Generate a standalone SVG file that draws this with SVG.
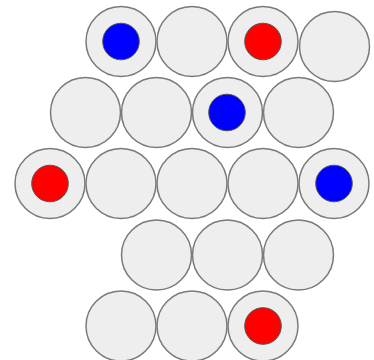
<svg xmlns="http://www.w3.org/2000/svg" width="374" height="360" viewBox="0 0 374 360">
<style>
.cell{fill:#eeeeee;stroke:#7a7a7a;stroke-width:1.5}
.piece{stroke:#555555;stroke-width:1}
.blue{fill:#0000ff}
.red{fill:#ff0000}
</style>
<rect width="374" height="360" fill="#ffffff"/>
<g id="row1">
<g id="c1-1"><circle class="cell" cx="121" cy="41.5" r="35"/><circle class="piece blue" cx="121" cy="41.5" r="18.3"/></g>
<g id="c1-2"><circle class="cell" cx="192" cy="41.5" r="35"/></g>
<g id="c1-3"><circle class="cell" cx="263" cy="41.5" r="35"/><circle class="piece red" cx="263" cy="41.5" r="18.3"/></g>
<g id="c1-4"><circle class="cell" cx="334.5" cy="46.5" r="35"/></g>
</g>
<g id="row2">
<g id="c2-1"><circle class="cell" cx="85.5" cy="112.5" r="35"/></g>
<g id="c2-2"><circle class="cell" cx="156.5" cy="112.5" r="35"/></g>
<g id="c2-3"><circle class="cell" cx="227.5" cy="112.5" r="35"/><circle class="piece blue" cx="227" cy="112.5" r="18.3"/></g>
<g id="c2-4"><circle class="cell" cx="298.5" cy="112.5" r="35"/></g>
</g>
<g id="row3">
<g id="c3-1"><circle class="cell" cx="50" cy="183.5" r="35"/><circle class="piece red" cx="50" cy="183.5" r="18.3"/></g>
<g id="c3-2"><circle class="cell" cx="121" cy="183.5" r="35"/></g>
<g id="c3-3"><circle class="cell" cx="192" cy="183.5" r="35"/></g>
<g id="c3-4"><circle class="cell" cx="263" cy="183.5" r="35"/></g>
<g id="c3-5"><circle class="cell" cx="334" cy="183.5" r="35"/><circle class="piece blue" cx="334" cy="183.5" r="18.3"/></g>
</g>
<g id="row4">
<g id="c4-1"><circle class="cell" cx="156.5" cy="255" r="35"/></g>
<g id="c4-2"><circle class="cell" cx="227.5" cy="255" r="35"/></g>
<g id="c4-3"><circle class="cell" cx="298.5" cy="255" r="35"/></g>
</g>
<g id="row5">
<g id="c5-1"><circle class="cell" cx="121" cy="326" r="35"/></g>
<g id="c5-2"><circle class="cell" cx="192" cy="326" r="35"/></g>
<g id="c5-3"><circle class="cell" cx="263" cy="326" r="35"/><circle class="piece red" cx="263" cy="326" r="18.3"/></g>
</g>
<g id="connectors"/>
</svg>
